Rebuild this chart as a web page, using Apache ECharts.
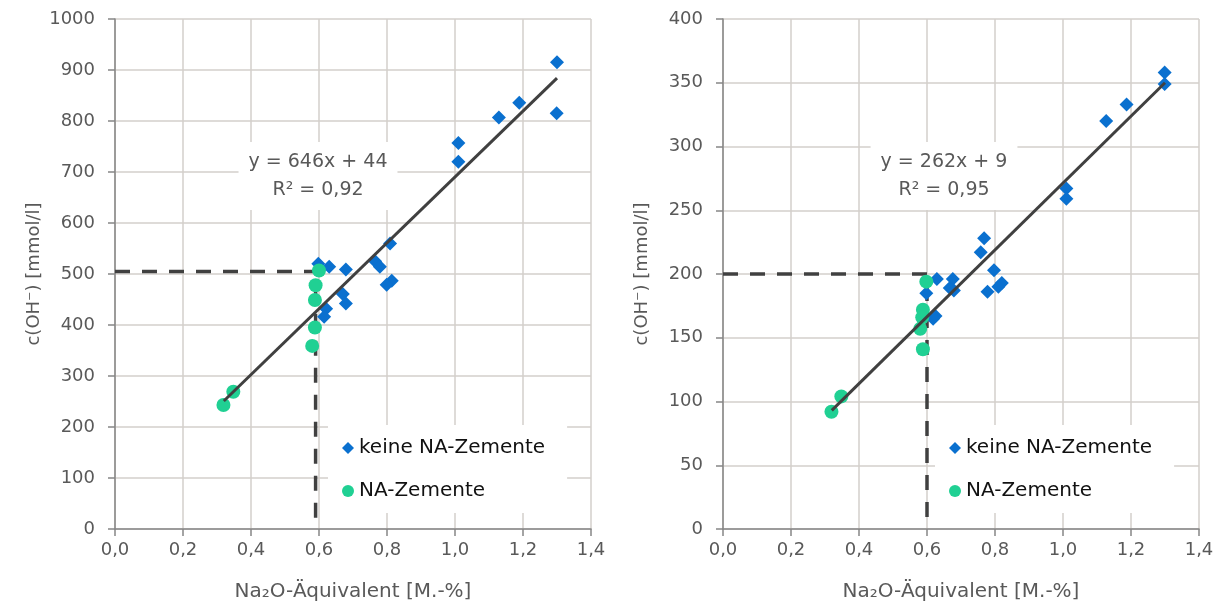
<!DOCTYPE html>
<html>
<head>
<meta charset="utf-8">
<script src="https://cdn.jsdelivr.net/npm/echarts@6/dist/echarts.min.js"></script>
<style>
html,body{margin:0;padding:0;background:#fff;}
#chart{width:1219px;height:607px;}
</style>
</head>
<body>
<div id="chart"></div>
<script>
// ---- data ----
const seriesNames = ['keine NA-Zemente', 'NA-Zemente'];

const leftBlue = [
  [0.598, 520], [0.630, 514], [0.679, 509], [0.765, 525], [0.779, 514],
  [0.809, 560], [0.814, 487], [0.799, 479], [0.670, 461], [0.679, 442],
  [0.621, 432], [0.615, 416], [1.010, 757], [1.010, 720], [1.129, 807],
  [1.189, 836], [1.299, 815], [1.300, 915]
];
const leftGreen = [
  [0.600, 507], [0.590, 478], [0.588, 449], [0.588, 395], [0.580, 359],
  [0.348, 269], [0.319, 243]
];
const leftTrend = [[0.32, 251], [1.30, 884]];
const leftGuide = [[0, 505], [0.59, 505], [0.59, 0]];
const leftEquation = ['y = 646x + 44', 'R² = 0,92'];

const rightBlue = [
  [0.768, 228], [0.758, 217], [0.797, 203], [0.820, 193], [0.810, 190],
  [0.778, 186], [0.629, 196], [0.676, 196], [0.667, 189], [0.679, 187],
  [0.598, 185], [0.618, 165], [0.625, 167], [1.010, 267], [1.010, 259],
  [1.127, 320], [1.187, 333], [1.299, 358], [1.299, 349]
];
const rightGreen = [
  [0.598, 194], [0.588, 172], [0.586, 166], [0.580, 157], [0.588, 141],
  [0.348, 104], [0.319, 92]
];
const rightTrend = [[0.32, 93], [1.30, 350]];
const rightGuide = [[0, 200], [0.6, 200], [0.6, 0]];
const rightEquation = ['y = 262x + 9', 'R² = 0,95'];

const xTicks = { min: 0, max: 1.4, interval: 0.2 };
const leftYTicks = { min: 0, max: 1000, interval: 100 };
const rightYTicks = { min: 0, max: 400, interval: 50 };
const xName = 'Na₂O-Äquivalent [M.-%]';
const yName = 'c(OH⁻) [mmol/l]';

// ---- styles ----
const FONT = 'DejaVu Sans';
const BLUE = '#0a70cf';
const GREEN = '#20d093';
const DARK = '#404040';
const GRID = '#d3cfcb';
const AXIS = '#868686';
const LABEL = '#595959';

function xAxisCfg(gridIndex) {
  return {
    type: 'value', gridIndex,
    min: xTicks.min, max: xTicks.max, interval: xTicks.interval,
    name: xName, nameLocation: 'middle', nameGap: 53,
    nameTextStyle: { fontFamily: FONT, fontSize: 20, color: LABEL },
    axisLine: { show: true, onZero: false, lineStyle: { color: AXIS, width: 1.5 } },
    axisTick: { show: true, length: 7, lineStyle: { color: AXIS, width: 1.5 } },
    axisLabel: { margin: 12, fontFamily: FONT, fontSize: 18, color: LABEL,
      formatter: v => v.toFixed(1).replace('.', ',') },
    splitLine: { show: true, lineStyle: { color: GRID, width: 1.5 } }
  };
}
function yAxisCfg(gridIndex, t) {
  return {
    type: 'value', gridIndex,
    min: t.min, max: t.max, interval: t.interval,
    name: yName, nameLocation: 'middle', nameGap: 72,
    nameTextStyle: { fontFamily: FONT, fontSize: 18, color: LABEL },
    axisLine: { show: true, onZero: false, lineStyle: { color: AXIS, width: 1.5 } },
    axisTick: { show: true, length: 7, lineStyle: { color: AXIS, width: 1.5 } },
    axisLabel: { margin: 20, fontFamily: FONT, fontSize: 18, color: LABEL,
      formatter: v => String(v) },
    splitLine: { show: true, lineStyle: { color: GRID, width: 1.5 } }
  };
}
function scatter(name, data, idx, symbol, size, color) {
  return { type: 'scatter', name, data, xAxisIndex: idx, yAxisIndex: idx,
    symbol, symbolSize: size, itemStyle: { color, opacity: 1 }, z: 3, silent: true };
}
function line(data, idx, dashed, width, z) {
  return { type: 'line', data, xAxisIndex: idx, yAxisIndex: idx, symbol: 'none',
    lineStyle: { color: DARK, width, type: dashed ? [15, 12] : 'solid' },
    z, silent: true, animation: false };
}
function legendCfg(left) {
  return {
    orient: 'vertical', left, top: 425,
    data: [{ name: seriesNames[0], icon: 'diamond' }, { name: seriesNames[1], icon: 'circle' }],
    backgroundColor: '#ffffff',
    padding: [11, 22, 10, 14],
    itemWidth: 12, itemHeight: 12, itemGap: 19,
    textStyle: { fontFamily: FONT, fontSize: 20, color: '#111', lineHeight: 24 },
    selectedMode: false
  };
}
function eqText(lines, x, y) {
  return {
    type: 'text', x, y, z: 10,
    style: {
      text: lines.join('\n'), align: 'center', verticalAlign: 'middle',
      fontFamily: FONT, fontSize: 19, lineHeight: 28, fill: LABEL,
      backgroundColor: '#ffffff', padding: [6, 10]
    }
  };
}

const chart = echarts.init(document.getElementById('chart'));
chart.setOption({
  animation: false,
  backgroundColor: '#ffffff',
  grid: [
    { left: 115, top: 19, width: 476, height: 511 },
    { left: 723, top: 19, width: 476, height: 511 }
  ],
  xAxis: [xAxisCfg(0), xAxisCfg(1)],
  yAxis: [yAxisCfg(0, leftYTicks), yAxisCfg(1, rightYTicks)],
  legend: [legendCfg(328), legendCfg(935)],
  series: [
    line(leftGuide, 0, true, 3.5, 2),
    line(rightGuide, 1, true, 3.5, 2),
    scatter(seriesNames[0], leftBlue, 0, 'diamond', 14, BLUE),
    scatter(seriesNames[1], leftGreen, 0, 'circle', 14, GREEN),
    scatter(seriesNames[0], rightBlue, 1, 'diamond', 14, BLUE),
    scatter(seriesNames[1], rightGreen, 1, 'circle', 14, GREEN),
    line(leftTrend, 0, false, 3, 5),
    line(rightTrend, 1, false, 3, 5)
  ],
  graphic: [
    eqText(leftEquation, 318, 176),
    eqText(rightEquation, 944, 176)
  ]
});
</script>
</body>
</html>
